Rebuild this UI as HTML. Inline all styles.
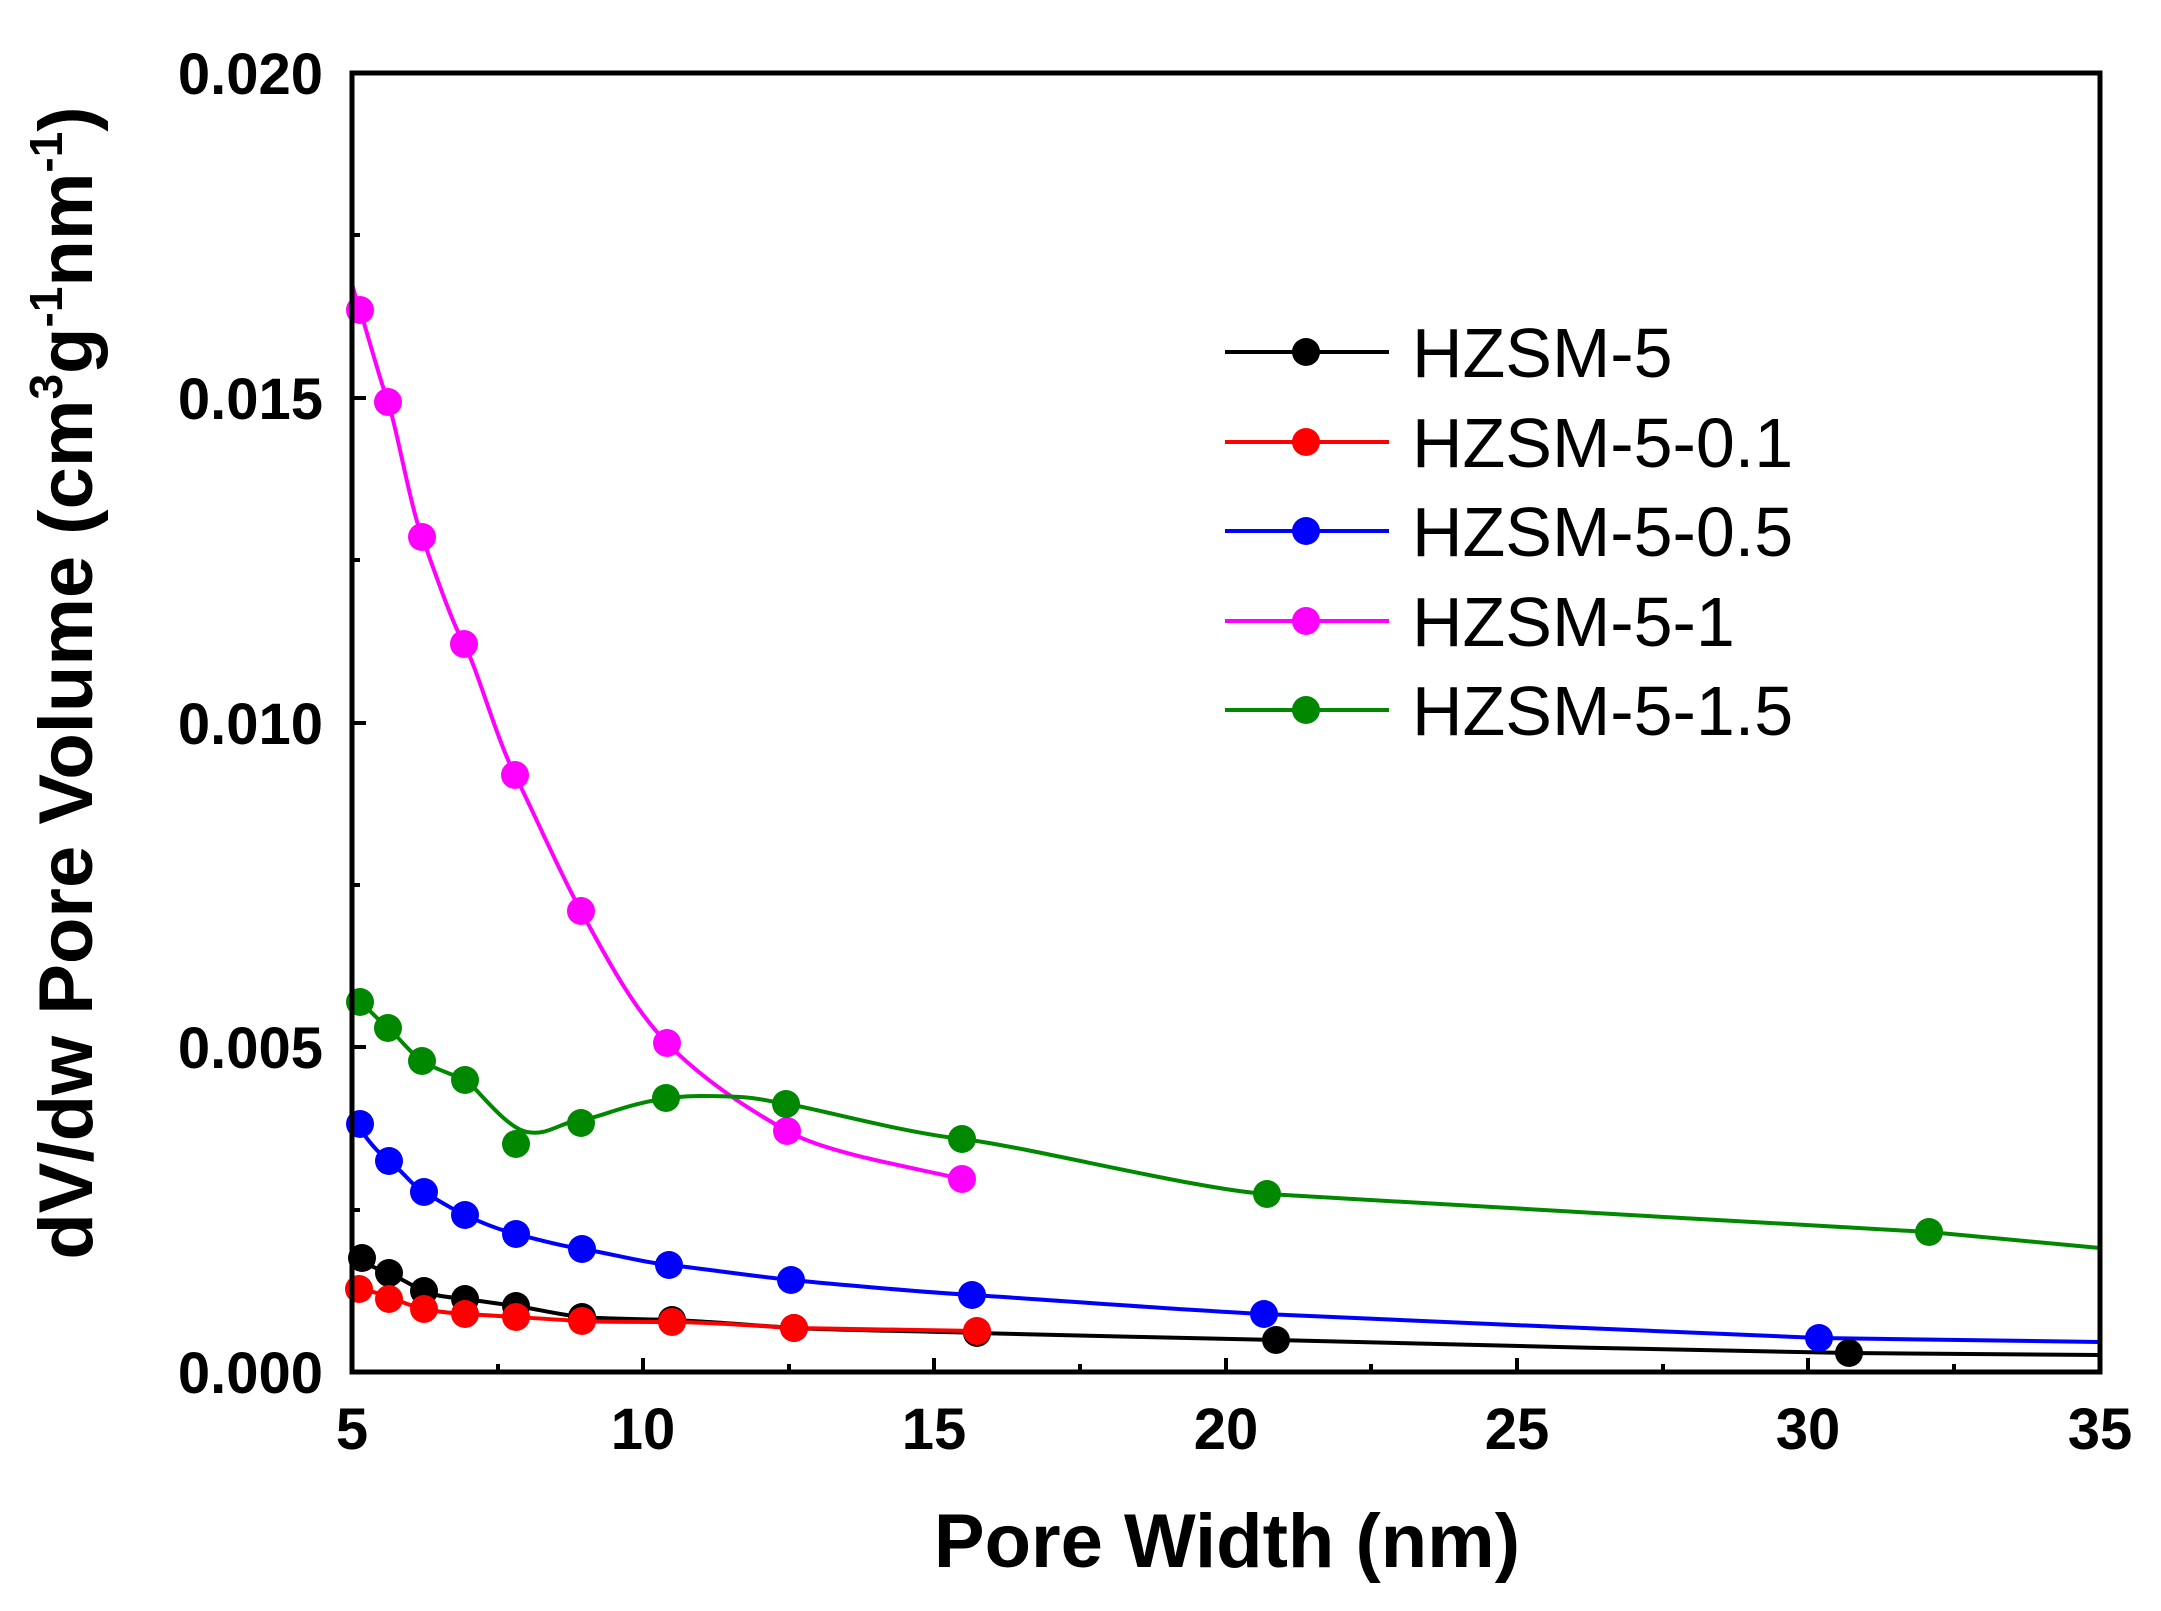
<!DOCTYPE html>
<html><head><meta charset="utf-8"><style>html,body{margin:0;padding:0;background:#fff}svg{display:block}</style></head>
<body>
<svg width="2161" height="1611" viewBox="0 0 2161 1611" xmlns="http://www.w3.org/2000/svg" font-family="Liberation Sans, Arial, sans-serif">
<rect width="2161" height="1611" fill="#fff"/>
<g fill="none" stroke-width="4" stroke-linejoin="round">
<path stroke="#000" d="M352,1252 C360,1262 375,1268 388,1273 S410,1285 424,1291 S450,1297 465,1299 S500,1304 516,1306 S560,1315 582,1317 S640,1319 672,1320 S760,1326 794,1328 S920,1331 977,1333 S1200,1338 1276,1340 S1700,1351 1849,1353 L2100,1355"/>
<path stroke="#f00" d="M352,1287 C362,1289 375,1292 389,1297 S410,1306 424,1309 S450,1313 465,1314 S500,1316 516,1317 S560,1320 582,1321 S640,1322 672,1322 S760,1326 794,1328 L977,1331"/>
<path stroke="#00f" d="M352,1112 C358,1128 372,1148 389,1161 S410,1184 424,1192 S450,1208 465,1215 S500,1230 516,1234 S560,1246 582,1249 S640,1262 669,1265 S760,1277 791,1280 S920,1292 972,1295 S1180,1310 1264,1314 S1700,1333 1819,1338 L2100,1342"/>
<path stroke="#f0f" d="M352,284 C356,298 358,305 360,310 S380,380 388,402 S410,505 422,537 S450,618 464,644 S495,735 515,775 S560,873 581,911 S630,1005 667,1043 S750,1110 787,1131 S900,1165 962,1179"/>
<path stroke="#080" d="M352,995 C356,1000 358,1002 360,1002 S378,1020 388,1028 S410,1053 422,1061 S455,1075 465,1080 S505,1128 527,1132 S560,1122 581,1120 S640,1096 700,1096 S760,1100 787,1104 S900,1132 962,1139 S1200,1190 1267,1194 S1750,1222 1929,1232 L2100,1248"/>
</g>
<g fill="#000"><circle cx="362" cy="1258" r="14"/><circle cx="389" cy="1273" r="14"/><circle cx="424" cy="1291" r="14"/><circle cx="465" cy="1299" r="14"/><circle cx="516" cy="1306" r="14"/><circle cx="582" cy="1317" r="14"/><circle cx="672" cy="1320" r="14"/><circle cx="794" cy="1328" r="14"/><circle cx="977" cy="1333" r="14"/><circle cx="1276" cy="1340" r="14"/><circle cx="1849" cy="1353" r="14"/></g>
<g fill="#f00"><circle cx="359" cy="1289" r="14"/><circle cx="389" cy="1299" r="14"/><circle cx="424" cy="1309" r="14"/><circle cx="465" cy="1314" r="14"/><circle cx="516" cy="1317" r="14"/><circle cx="582" cy="1321" r="14"/><circle cx="672" cy="1322" r="14"/><circle cx="794" cy="1328" r="14"/><circle cx="977" cy="1331" r="14"/></g>
<g fill="#00f"><circle cx="360" cy="1124" r="14"/><circle cx="389" cy="1161" r="14"/><circle cx="424" cy="1192" r="14"/><circle cx="465" cy="1215" r="14"/><circle cx="516" cy="1234" r="14"/><circle cx="582" cy="1249" r="14"/><circle cx="669" cy="1265" r="14"/><circle cx="791" cy="1280" r="14"/><circle cx="972" cy="1295" r="14"/><circle cx="1264" cy="1314" r="14"/><circle cx="1819" cy="1338" r="14"/></g>
<g fill="#f0f"><circle cx="360" cy="310" r="14"/><circle cx="388" cy="402" r="14"/><circle cx="422" cy="537" r="14"/><circle cx="464" cy="644" r="14"/><circle cx="515" cy="775" r="14"/><circle cx="581" cy="911" r="14"/><circle cx="667" cy="1043" r="14"/><circle cx="787" cy="1131" r="14"/><circle cx="962" cy="1179" r="14"/></g>
<g fill="#080"><circle cx="360" cy="1002" r="14"/><circle cx="388" cy="1028" r="14"/><circle cx="422" cy="1061" r="14"/><circle cx="465" cy="1080" r="14"/><circle cx="516" cy="1144" r="14"/><circle cx="581" cy="1123" r="14"/><circle cx="666" cy="1098" r="14"/><circle cx="786" cy="1104" r="14"/><circle cx="962" cy="1139" r="14"/><circle cx="1267" cy="1194" r="14"/><circle cx="1929" cy="1232" r="14"/></g>
<rect x="352" y="73" width="1748" height="1299" fill="none" stroke="#000" stroke-width="5"/>
<g stroke="#000" stroke-width="4">
<path d="M352,1372v-14M498,1372v-8M643,1372v-14M789,1372v-8M934,1372v-14M1080,1372v-8M1226,1372v-14M1371,1372v-8M1517,1372v-14M1663,1372v-8M1808,1372v-14M1954,1372v-8M2100,1372v-14"/>
<path d="M352,1372h14M352,1210h8M352,1047h14M352,885h8M352,723h14M352,560h8M352,398h14M352,235h8M352,73h14"/>
</g>
<g font-size="58" font-weight="bold" text-anchor="middle">
<text x="352" y="1449">5</text><text x="643" y="1449">10</text><text x="934" y="1449">15</text><text x="1226" y="1449">20</text><text x="1517" y="1449">25</text><text x="1808" y="1449">30</text><text x="2100" y="1449">35</text>
</g>
<g font-size="58" font-weight="bold" text-anchor="end">
<text x="323" y="1393">0.000</text><text x="323" y="1068">0.005</text><text x="323" y="744">0.010</text><text x="323" y="419">0.015</text><text x="323" y="94">0.020</text>
</g>
<text x="1227" y="1567" font-size="76" font-weight="bold" text-anchor="middle">Pore Width (nm)</text>
<text transform="translate(92,683) rotate(-90)" font-size="76" font-weight="bold" text-anchor="middle">dV/dw Pore Volume (cm<tspan font-size="46" dy="-30">3</tspan><tspan dy="30">g</tspan><tspan font-size="46" dy="-30">-1</tspan><tspan dy="30">nm</tspan><tspan font-size="46" dy="-30">-1</tspan><tspan dy="30">)</tspan></text>
<g stroke-width="4">
<line x1="1225" y1="352" x2="1389" y2="352" stroke="#000"/><circle cx="1306" cy="352" r="14" fill="#000"/>
<line x1="1225" y1="442" x2="1389" y2="442" stroke="#f00"/><circle cx="1306" cy="442" r="14" fill="#f00"/>
<line x1="1225" y1="531" x2="1389" y2="531" stroke="#00f"/><circle cx="1306" cy="531" r="14" fill="#00f"/>
<line x1="1225" y1="621" x2="1389" y2="621" stroke="#f0f"/><circle cx="1306" cy="621" r="14" fill="#f0f"/>
<line x1="1225" y1="710" x2="1389" y2="710" stroke="#080"/><circle cx="1306" cy="710" r="14" fill="#080"/>
</g>
<g font-size="70">
<text x="1412" y="377">HZSM-5</text><text x="1412" y="467">HZSM-5-0.1</text><text x="1412" y="556">HZSM-5-0.5</text><text x="1412" y="646">HZSM-5-1</text><text x="1412" y="735">HZSM-5-1.5</text>
</g>
</svg>
</body></html>
